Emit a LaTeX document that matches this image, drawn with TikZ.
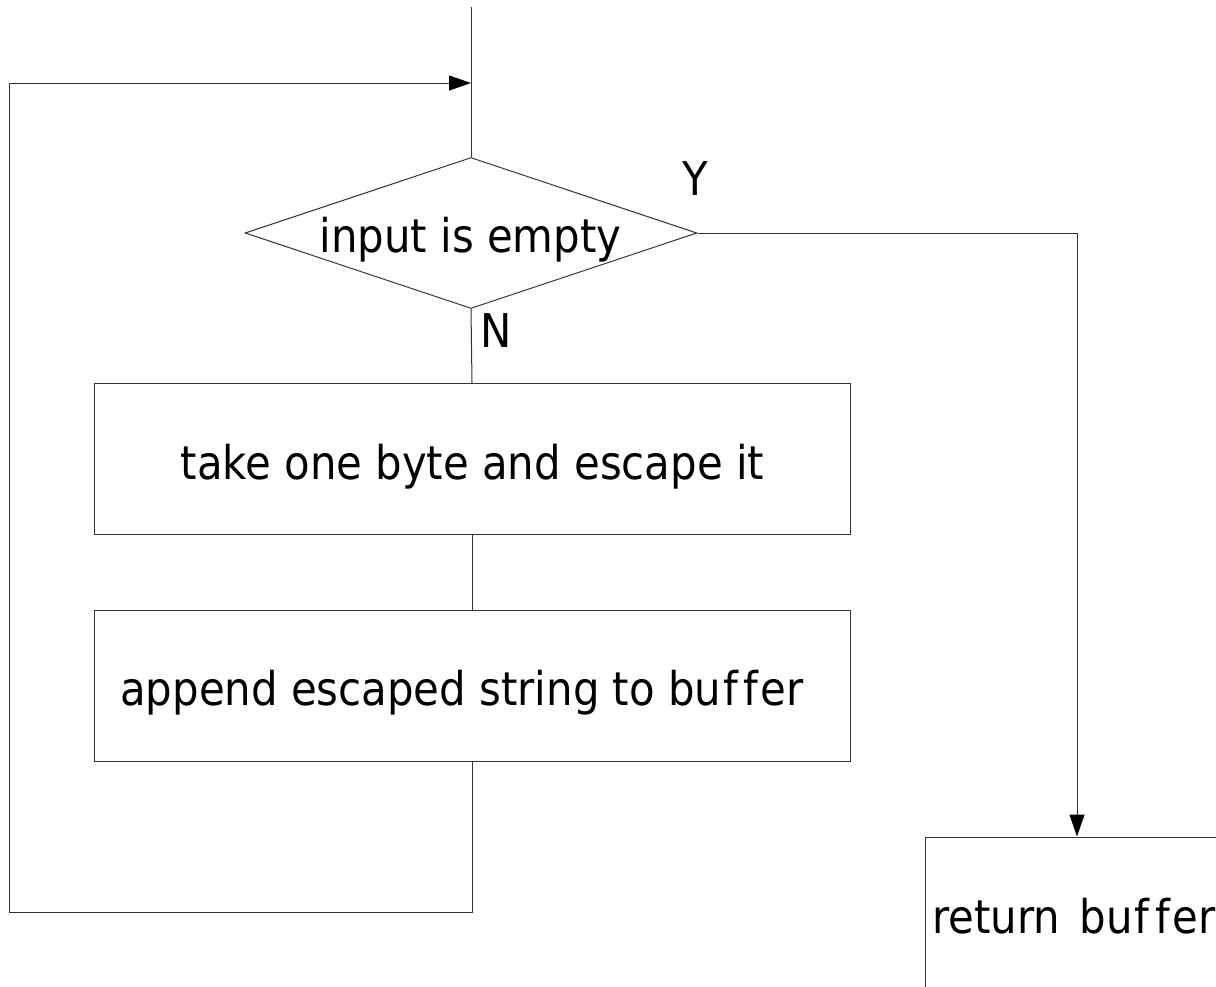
\documentclass[tikz,border=0pt]{standalone}
\usepackage{fontspec}
\setmainfont[Ligatures={NoCommon}]{DejaVu Sans Condensed}
\usetikzlibrary{arrows.meta,shapes.geometric}
% "buffer" is set with its two f's spaced apart
\newcommand\bufword{bu\kern2pt f\kern6pt f\kern2pt er}

\begin{document}
\begin{tikzpicture}[x=1pt,y=-1pt,
  line/.style={draw=black!80,line width=1pt},
  arr/.style={line,-{Triangle[length=22pt,width=15pt,color=black]}},
  stepbox/.style={line,rectangle,inner sep=0pt,minimum width=756pt,minimum height=151pt},
  decision/.style={line,diamond,inner sep=0pt,minimum width=452pt,minimum height=151pt},
  txt/.style={inner sep=0pt,font=\fontsize{46.5}{56}\selectfont}]
  \useasboundingbox (0,0) rectangle (1216,986);
  \clip (0,0) rectangle (1216,986);

  % shapes
  \node[decision] (dia) at (471,233) {};
  \node[stepbox] (b1) at (472,459) {};
  \node[stepbox] (b2) at (472,686) {};
  \node[line,rectangle,inner sep=0pt,minimum width=304pt,minimum height=151pt] (ret) at (1077,912.5) {};

  % texts
  \node[txt,anchor=base] (tdia) at (470.5,252) {input is empty};
  \node[txt,anchor=base] (tb1) at (472.5,479) {take one byte and escape it};
  \node[txt,anchor=base] (tb2) at (462,705) {append escaped string to \bufword};
  \node[txt,anchor=base west] (tret) at (932,933) {return\hspace{20pt}\bufword};
  \node[txt,anchor=base] (ty) at (695,195) {Y};
  \node[txt,anchor=base west] (tn) at (480,347) {N};

  % helper points of the loop
  \coordinate (top) at (471,7);
  \coordinate (join) at (471,83);
  \coordinate (loopbl) at (9,912);

  % connectors
  \draw[line] (top) -- (dia.north);
  \draw[line] (dia.south) -- (b1.north);
  \draw[line] (b1.south) -- (b2.north);
  \draw[arr] (b2.south) |- (loopbl) |- (join);
  \draw[arr] (dia.east) -| (ret.north);
\end{tikzpicture}
\end{document}
